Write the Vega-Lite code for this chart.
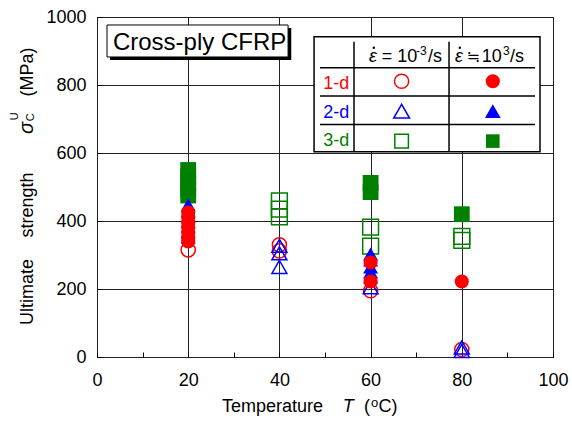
{
  "$schema": "https://vega.github.io/schema/vega-lite/v6.json",
  "width": 456,
  "height": 340,
  "autosize": {"type": "none"},
  "padding": {"left": 97, "top": 17, "right": 19, "bottom": 64},
  "background": "white",
  "config": {
    "font": "Liberation Sans",
    "view": {"stroke": "black", "strokeWidth": 1},
    "axis": {
      "domain": false,
      "labelFont": "Liberation Sans",
      "labelFontSize": 18,
      "labelColor": "black",
      "labelFlush": false,
      "labelOverlap": false,
      "ticks": true,
      "tickColor": "black",
      "tickWidth": 1,
      "tickSize": -5,
      "gridColor": "#222222",
      "gridWidth": 1
    },
    "text": {"font": "Liberation Sans", "fontSize": 18, "color": "black"}
  },
  "datasets": {
    "strength": [
      {"T": 20, "S": 550, "type": "3-d", "rate": "fast"},
      {"T": 20, "S": 530, "type": "3-d", "rate": "fast"},
      {"T": 20, "S": 510, "type": "3-d", "rate": "fast"},
      {"T": 20, "S": 490, "type": "3-d", "rate": "fast"},
      {"T": 20, "S": 475, "type": "3-d", "rate": "fast"},
      {"T": 60, "S": 512, "type": "3-d", "rate": "fast"},
      {"T": 60, "S": 485, "type": "3-d", "rate": "fast"},
      {"T": 80, "S": 420, "type": "3-d", "rate": "fast"},
      {"T": 40, "S": 459, "type": "3-d", "rate": "slow"},
      {"T": 40, "S": 435, "type": "3-d", "rate": "slow"},
      {"T": 40, "S": 412, "type": "3-d", "rate": "slow"},
      {"T": 60, "S": 382, "type": "3-d", "rate": "slow"},
      {"T": 60, "S": 326, "type": "3-d", "rate": "slow"},
      {"T": 80, "S": 355, "type": "3-d", "rate": "slow"},
      {"T": 80, "S": 343, "type": "3-d", "rate": "slow"},
      {"T": 20, "S": 315, "type": "1-d", "rate": "slow"},
      {"T": 40, "S": 330, "type": "1-d", "rate": "slow"},
      {"T": 40, "S": 312, "type": "1-d", "rate": "slow"},
      {"T": 60, "S": 195, "type": "1-d", "rate": "slow"},
      {"T": 80, "S": 22, "type": "1-d", "rate": "slow"},
      {"T": 40, "S": 327, "type": "2-d", "rate": "slow"},
      {"T": 40, "S": 305, "type": "2-d", "rate": "slow"},
      {"T": 40, "S": 265, "type": "2-d", "rate": "slow"},
      {"T": 60, "S": 205, "type": "2-d", "rate": "slow"},
      {"T": 80, "S": 28, "type": "2-d", "rate": "slow"},
      {"T": 80, "S": 18, "type": "2-d", "rate": "slow"},
      {"T": 20, "S": 448, "type": "2-d", "rate": "fast"},
      {"T": 20, "S": 430, "type": "2-d", "rate": "fast"},
      {"T": 20, "S": 415, "type": "2-d", "rate": "fast"},
      {"T": 20, "S": 400, "type": "2-d", "rate": "fast"},
      {"T": 20, "S": 385, "type": "2-d", "rate": "fast"},
      {"T": 20, "S": 370, "type": "2-d", "rate": "fast"},
      {"T": 20, "S": 352, "type": "2-d", "rate": "fast"},
      {"T": 60, "S": 303, "type": "2-d", "rate": "fast"},
      {"T": 60, "S": 285, "type": "2-d", "rate": "fast"},
      {"T": 60, "S": 265, "type": "2-d", "rate": "fast"},
      {"T": 60, "S": 250, "type": "2-d", "rate": "fast"},
      {"T": 60, "S": 235, "type": "2-d", "rate": "fast"},
      {"T": 20, "S": 425, "type": "1-d", "rate": "fast"},
      {"T": 20, "S": 410, "type": "1-d", "rate": "fast"},
      {"T": 20, "S": 395, "type": "1-d", "rate": "fast"},
      {"T": 20, "S": 380, "type": "1-d", "rate": "fast"},
      {"T": 20, "S": 365, "type": "1-d", "rate": "fast"},
      {"T": 20, "S": 350, "type": "1-d", "rate": "fast"},
      {"T": 20, "S": 340, "type": "1-d", "rate": "fast"},
      {"T": 60, "S": 278, "type": "1-d", "rate": "fast"},
      {"T": 60, "S": 222, "type": "1-d", "rate": "fast"},
      {"T": 80, "S": 222, "type": "1-d", "rate": "fast"}
    ]
  },
  "data": {"values": [{}]},
  "layer": [
    {
      "data": {"name": "strength"},
      "transform": [{"filter": "datum.rate === 'slow'"}],
      "mark": {"type": "point", "filled": false, "strokeWidth": 1.5, "opacity": 1},
      "encoding": {
        "x": {
          "field": "T", "type": "quantitative",
          "scale": {"domain": [0, 100], "nice": false, "zero": false},
          "axis": {
            "title": null,
            "values": [0, 10, 20, 30, 40, 50, 60, 70, 80, 90, 100],
            "labelExpr": "datum.value % 20 === 0 ? '' + datum.value : ''",
            "labelPadding": 19,
            "gridOpacity": {"condition": {"test": "datum.value % 20 === 0", "value": 1}, "value": 0}
          }
        },
        "y": {
          "field": "S", "type": "quantitative",
          "scale": {"domain": [0, 1000], "nice": false},
          "axis": {
            "title": null,
            "values": [0, 100, 200, 300, 400, 500, 600, 700, 800, 900, 1000],
            "labelExpr": "datum.value % 200 === 0 ? '' + datum.value : ''",
            "labelPadding": 16,
            "gridOpacity": {"condition": {"test": "datum.value % 200 === 0", "value": 1}, "value": 0}
          }
        },
        "color": {"field": "type", "type": "nominal", "scale": {"domain": ["1-d", "2-d", "3-d"], "range": ["#ff0000", "#0000ff", "#008000"]}, "legend": null},
        "shape": {"field": "type", "type": "nominal", "scale": {"domain": ["1-d", "2-d", "3-d"], "range": ["circle", "triangle-up", "square"]}, "legend": null},
        "size": {"field": "type", "type": "ordinal", "scale": {"domain": ["1-d", "2-d", "3-d"], "range": [200, 250, 185]}, "legend": null}
      }
    },
    {
      "data": {"name": "strength"},
      "transform": [{"filter": "datum.rate === 'fast'"}],
      "mark": {"type": "point", "filled": true, "opacity": 1},
      "encoding": {
        "x": {"field": "T", "type": "quantitative"},
        "y": {"field": "S", "type": "quantitative"},
        "color": {"field": "type", "type": "nominal", "legend": null},
        "shape": {"field": "type", "type": "nominal", "legend": null},
        "size": {"field": "type", "type": "ordinal", "legend": null}
      }
    },
    {
      "mark": {"type": "rect", "fill": "black"},
      "encoding": {"x": {"datum": 2.85, "type": "quantitative"}, "x2": {"datum": 42.6}, "y": {"datum": 967.6, "type": "quantitative"}, "y2": {"datum": 873.5}}
    },
    {
      "mark": {"type": "rect", "fill": "white", "stroke": "black", "strokeWidth": 1},
      "encoding": {"x": {"datum": 2.19, "type": "quantitative"}, "x2": {"datum": 41.9}, "y": {"datum": 976.5, "type": "quantitative"}, "y2": {"datum": 882.4}}
    },
    {
      "mark": {"type": "text", "text": "Cross-ply CFRP", "fontSize": 24, "align": "center", "baseline": "alphabetic"},
      "encoding": {"x": {"datum": 22.5, "type": "quantitative"}, "y": {"datum": 903, "type": "quantitative"}}
    },
    {
      "mark": {"type": "rect", "fill": "white", "stroke": "black", "strokeWidth": 1.5},
      "encoding": {"x": {"datum": 47.6, "type": "quantitative"}, "x2": {"datum": 97.15}, "y": {"datum": 942, "type": "quantitative"}, "y2": {"datum": 604}}
    },
    {
      "mark": {"type": "rule", "color": "black", "strokeWidth": 1.5},
      "encoding": {"x": {"datum": 48.9, "type": "quantitative"}, "x2": {"datum": 96.05}, "y": {"datum": 851, "type": "quantitative"}}
    },
    {
      "mark": {"type": "rule", "color": "black", "strokeWidth": 1.5},
      "encoding": {"x": {"datum": 48.9, "type": "quantitative"}, "x2": {"datum": 96.05}, "y": {"datum": 767.6, "type": "quantitative"}}
    },
    {
      "mark": {"type": "rule", "color": "black", "strokeWidth": 1.5},
      "encoding": {"x": {"datum": 48.9, "type": "quantitative"}, "x2": {"datum": 96.05}, "y": {"datum": 684, "type": "quantitative"}}
    },
    {
      "mark": {"type": "rule", "color": "black", "strokeWidth": 1.5},
      "encoding": {"x": {"datum": 56.36, "type": "quantitative"}, "y": {"datum": 927, "type": "quantitative"}, "y2": {"datum": 606}}
    },
    {
      "mark": {"type": "rule", "color": "black", "strokeWidth": 1.5},
      "encoding": {"x": {"datum": 77.2, "type": "quantitative"}, "y": {"datum": 927, "type": "quantitative"}, "y2": {"datum": 606}}
    },
    {
      "mark": {"type": "text", "text": "1-d", "color": "#ff0000", "align": "right", "baseline": "alphabetic"},
      "encoding": {"x": {"datum": 55.3, "type": "quantitative"}, "y": {"datum": 788, "type": "quantitative"}}
    },
    {
      "mark": {"type": "text", "text": "2-d", "color": "#0000ff", "align": "right", "baseline": "alphabetic"},
      "encoding": {"x": {"datum": 55.3, "type": "quantitative"}, "y": {"datum": 704, "type": "quantitative"}}
    },
    {
      "mark": {"type": "text", "text": "3-d", "color": "#008000", "align": "right", "baseline": "alphabetic"},
      "encoding": {"x": {"datum": 55.3, "type": "quantitative"}, "y": {"datum": 621.5, "type": "quantitative"}}
    },
    {
      "mark": {"type": "point", "shape": "circle", "filled": false, "color": "#ff0000", "size": 200, "strokeWidth": 1.5, "opacity": 1},
      "encoding": {"x": {"datum": 66.8, "type": "quantitative"}, "y": {"datum": 811, "type": "quantitative"}}
    },
    {
      "mark": {"type": "point", "shape": "circle", "filled": true, "color": "#ff0000", "size": 200, "opacity": 1},
      "encoding": {"x": {"datum": 86.8, "type": "quantitative"}, "y": {"datum": 811, "type": "quantitative"}}
    },
    {
      "mark": {"type": "point", "shape": "triangle-up", "filled": false, "color": "#0000ff", "size": 250, "strokeWidth": 1.5, "opacity": 1},
      "encoding": {"x": {"datum": 66.8, "type": "quantitative"}, "y": {"datum": 723, "type": "quantitative"}}
    },
    {
      "mark": {"type": "point", "shape": "triangle-up", "filled": true, "color": "#0000ff", "size": 250, "opacity": 1},
      "encoding": {"x": {"datum": 86.8, "type": "quantitative"}, "y": {"datum": 723, "type": "quantitative"}}
    },
    {
      "mark": {"type": "point", "shape": "square", "filled": false, "color": "#008000", "size": 185, "strokeWidth": 1.5, "opacity": 1},
      "encoding": {"x": {"datum": 66.8, "type": "quantitative"}, "y": {"datum": 635, "type": "quantitative"}}
    },
    {
      "mark": {"type": "point", "shape": "square", "filled": true, "color": "#008000", "size": 185, "opacity": 1},
      "encoding": {"x": {"datum": 86.8, "type": "quantitative"}, "y": {"datum": 635, "type": "quantitative"}}
    },
    {
      "mark": {"type": "text", "text": "\u03b5", "fontStyle": "italic", "align": "right", "baseline": "alphabetic"},
      "encoding": {"x": {"datum": 61.4, "type": "quantitative"}, "y": {"datum": 866.7, "type": "quantitative"}}
    },
    {
      "mark": {"type": "point", "shape": "circle", "filled": true, "color": "black", "size": 6, "opacity": 1},
      "encoding": {"x": {"datum": 60.7, "type": "quantitative"}, "y": {"datum": 909.7, "type": "quantitative"}}
    },
    {
      "mark": {"type": "text", "text": "= 10", "align": "left", "baseline": "alphabetic"},
      "encoding": {"x": {"datum": 62.43, "type": "quantitative"}, "y": {"datum": 866.7, "type": "quantitative"}}
    },
    {
      "mark": {"type": "text", "text": "-3", "fontSize": 12, "align": "left", "baseline": "alphabetic"},
      "encoding": {"x": {"datum": 69.96, "type": "quantitative"}, "y": {"datum": 888, "type": "quantitative"}}
    },
    {
      "mark": {"type": "text", "text": "/s", "align": "left", "baseline": "alphabetic"},
      "encoding": {"x": {"datum": 72.59, "type": "quantitative"}, "y": {"datum": 866.7, "type": "quantitative"}}
    },
    {
      "mark": {"type": "text", "text": "\u03b5", "fontStyle": "italic", "align": "right", "baseline": "alphabetic"},
      "encoding": {"x": {"datum": 80.26, "type": "quantitative"}, "y": {"datum": 866.7, "type": "quantitative"}}
    },
    {
      "mark": {"type": "point", "shape": "circle", "filled": true, "color": "black", "size": 6, "opacity": 1},
      "encoding": {"x": {"datum": 79.56, "type": "quantitative"}, "y": {"datum": 909.7, "type": "quantitative"}}
    },
    {
      "mark": {"type": "text", "text": "\u2252", "font": "DejaVu Sans", "fontSize": 16, "align": "center", "baseline": "alphabetic"},
      "encoding": {"x": {"datum": 82.5, "type": "quantitative"}, "y": {"datum": 866.7, "type": "quantitative"}}
    },
    {
      "mark": {"type": "text", "text": "10", "align": "left", "baseline": "alphabetic"},
      "encoding": {"x": {"datum": 84.36, "type": "quantitative"}, "y": {"datum": 866.7, "type": "quantitative"}}
    },
    {
      "mark": {"type": "text", "text": "3", "fontSize": 12, "align": "left", "baseline": "alphabetic"},
      "encoding": {"x": {"datum": 89.04, "type": "quantitative"}, "y": {"datum": 888, "type": "quantitative"}}
    },
    {
      "mark": {"type": "text", "text": "/s", "align": "left", "baseline": "alphabetic"},
      "encoding": {"x": {"datum": 90.57, "type": "quantitative"}, "y": {"datum": 866.7, "type": "quantitative"}}
    },
    {
      "mark": {"type": "text", "text": "Temperature", "align": "center", "baseline": "alphabetic"},
      "encoding": {"x": {"datum": 38.49, "type": "quantitative"}, "y": {"datum": -162.4, "type": "quantitative"}}
    },
    {
      "mark": {"type": "text", "text": "T", "fontStyle": "italic", "align": "center", "baseline": "alphabetic"},
      "encoding": {"x": {"datum": 55.1, "type": "quantitative"}, "y": {"datum": -162.4, "type": "quantitative"}}
    },
    {
      "mark": {"type": "text", "text": "(", "align": "left", "baseline": "alphabetic"},
      "encoding": {"x": {"datum": 58.55, "type": "quantitative"}, "y": {"datum": -162.4, "type": "quantitative"}}
    },
    {
      "mark": {"type": "text", "text": "o", "fontSize": 13, "align": "center", "baseline": "alphabetic"},
      "encoding": {"x": {"datum": 60.9, "type": "quantitative"}, "y": {"datum": -146.2, "type": "quantitative"}}
    },
    {
      "mark": {"type": "text", "text": "C)", "align": "left", "baseline": "alphabetic"},
      "encoding": {"x": {"datum": 61.75, "type": "quantitative"}, "y": {"datum": -162.4, "type": "quantitative"}}
    },
    {
      "mark": {"type": "text", "text": "Ultimate", "angle": 270, "align": "center", "baseline": "alphabetic"},
      "encoding": {"x": {"datum": -14.04, "type": "quantitative"}, "y": {"datum": 191, "type": "quantitative"}}
    },
    {
      "mark": {"type": "text", "text": "strength", "angle": 270, "align": "center", "baseline": "alphabetic"},
      "encoding": {"x": {"datum": -14.04, "type": "quantitative"}, "y": {"datum": 447, "type": "quantitative"}}
    },
    {
      "mark": {"type": "text", "text": "\u03c3", "fontStyle": "italic", "fontSize": 20, "angle": 270, "align": "center", "baseline": "alphabetic"},
      "encoding": {"x": {"datum": -14.04, "type": "quantitative"}, "y": {"datum": 673.5, "type": "quantitative"}}
    },
    {
      "mark": {"type": "text", "text": "U", "fontSize": 11, "angle": 270, "align": "center", "baseline": "alphabetic"},
      "encoding": {"x": {"datum": -17.3, "type": "quantitative"}, "y": {"datum": 708, "type": "quantitative"}}
    },
    {
      "mark": {"type": "text", "text": "C", "fontSize": 11, "angle": 270, "align": "center", "baseline": "alphabetic"},
      "encoding": {"x": {"datum": -13.8, "type": "quantitative"}, "y": {"datum": 705, "type": "quantitative"}}
    },
    {
      "mark": {"type": "text", "text": "(MPa)", "angle": 270, "align": "center", "baseline": "alphabetic"},
      "encoding": {"x": {"datum": -14.04, "type": "quantitative"}, "y": {"datum": 838, "type": "quantitative"}}
    }
  ]
}
